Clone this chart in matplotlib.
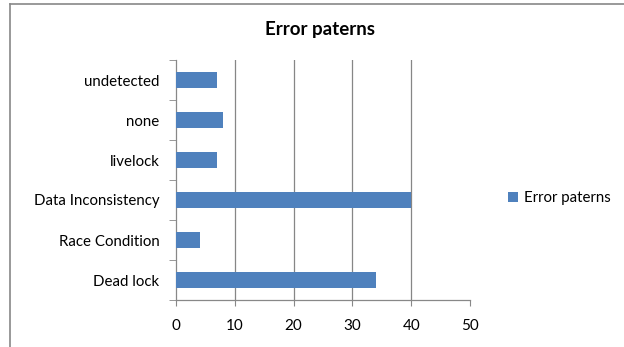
import matplotlib.pyplot as plt
from matplotlib.lines import Line2D
from matplotlib.patches import Patch

categories = ["Dead lock", "Race Condition", "Data Inconsistency", "livelock", "none", "undetected"]
values = [34, 4, 40, 7, 8, 7]
x_ticks = [0, 10, 20, 30, 40, 50]
series_name = "Error paterns"

plt.rcParams['font.family'] = ['Lato', 'DejaVu Sans']

fig = plt.figure(figsize=(6.24, 3.47), dpi=100)
W, H = 624, 347
ax = fig.add_axes([176 / W, 1 - 300 / H, (470 - 176) / W, (300 - 60) / H])

pos = list(range(len(categories)))
ax.barh(pos, values, height=0.38, color="#4F81BD", zorder=3)
ax.set_ylim(-0.5, len(categories) - 0.5)
ax.set_xlim(0, 50)
ax.set_xticks(x_ticks)
ax.set_xticklabels([str(t) for t in x_ticks], fontsize=11)
ax.set_yticks(pos)
ax.set_yticklabels(categories, fontsize=10.8)
ax.tick_params(axis="y", length=0, pad=12)
ax.tick_params(axis="x", length=4, color="#888888", pad=10)

# category boundary ticks on the value axis
ax.set_yticks([p - 0.5 for p in pos] + [len(categories) - 0.5], minor=True)
ax.tick_params(axis="y", which="minor", length=5, color="#888888", direction="out")

for t in x_ticks[1:-1]:
    ax.axvline(t, color="#868686", lw=0.9, zorder=1)

for s in ["top", "right"]:
    ax.spines[s].set_visible(False)
for s in ["left", "bottom"]:
    ax.spines[s].set_color("#888888")
    ax.spines[s].set_linewidth(0.9)

fig.text(320 / W, 1 - 30 / H, "Error paterns", ha="center", va="center",
         fontsize=13.5, fontweight="bold")

handles = [Patch(facecolor="#4F81BD", edgecolor="none")]
fig.legend(handles, [series_name], loc="center left", bbox_to_anchor=(500 / W, 1 - 198 / H),
           frameon=False, fontsize=10.8, handlelength=0.7, handleheight=0.7,
           handletextpad=0.4, borderpad=0)

# outer frame lines (top and left)
fig.add_artist(Line2D([10 / W, 1], [1 - 4 / H, 1 - 4 / H], color="#888888", lw=1.2))
fig.add_artist(Line2D([10 / W, 10 / W], [0, 1 - 4 / H], color="#888888", lw=1.2))

fig.savefig("out.png", dpi=100)
